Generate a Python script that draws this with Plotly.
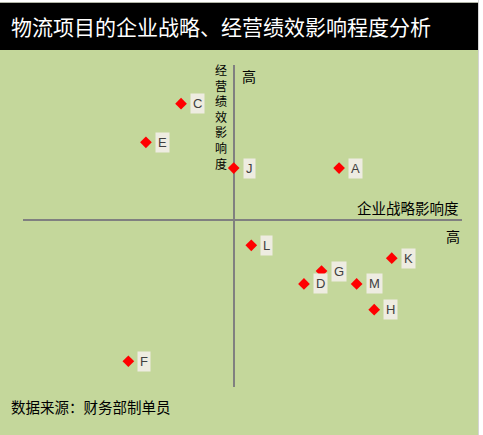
import plotly.graph_objects as go

# 项目数据（企业战略影响度, 经营绩效影响度）
projects = ['A', 'C', 'D', 'E', 'F', 'G', 'H', 'J', 'K', 'L', 'M']
strategy = [6, -3, 4, -5, -6, 5, 8, 0, 9, 1, 7]
performance = [4, 9, -5, 6, -11, -4, -7, 4, -3, -2, -5]

title_text = '物流项目的企业战略、经营绩效影响程度分析'
x_title = '企业战略影响度'
y_title = '经营绩效影响度'
high_label = '高'
source_text = '数据来源：财务部制单员'

W, H = 483, 435
L, R, T, B = 23, 21, 65, 48
PW, PH = W - L - R, H - T - B

def px(x):
    return (x - L) / PW

def py(y):
    return (H - B - y) / PH

green = '#c4d79b'
cjk = 'Noto Sans CJK SC'

fig = go.Figure()
fig.add_trace(go.Scatter(
    x=strategy, y=performance, mode='markers',
    marker=dict(symbol='diamond', size=9, color='#ff0000'),
    hoverinfo='skip', showlegend=False
))

ann = []
for name, xv, yv in zip(projects, strategy, performance):
    ann.append(dict(x=xv, y=yv, xref='x', yref='y', text=name, showarrow=False,
                    xanchor='left', yanchor='middle', xshift=9,
                    bgcolor='#eeece1', borderpad=2,
                    font=dict(family='Liberation Sans, Arial', size=13, color='#404040')))

# 纵轴标题（竖排）
ann.append(dict(x=px(229), y=py(116), xref='paper', yref='paper',
                text='<br>'.join(y_title), showarrow=False,
                xanchor='right', yanchor='middle', align='center',
                font=dict(family=cjk, size=12, color='#000000')))

ann += [
    dict(x=px(248.5), y=py(75.5), xref='paper', yref='paper', text=high_label,
         showarrow=False, xanchor='center', yanchor='middle',
         font=dict(family=cjk, size=14, color='#000000')),
    dict(x=px(461), y=py(207), xref='paper', yref='paper', text=x_title,
         showarrow=False, xanchor='right', yanchor='middle',
         font=dict(family=cjk, size=14.5, color='#000000')),
    dict(x=px(462), y=py(236.5), xref='paper', yref='paper', text=high_label,
         showarrow=False, xanchor='right', yanchor='middle',
         font=dict(family=cjk, size=14, color='#000000')),
    dict(x=px(9), y=py(407), xref='paper', yref='paper', text=source_text,
         showarrow=False, xanchor='left', yanchor='middle',
         font=dict(family=cjk, size=14.5, color='#000000')),
    dict(x=px(9), y=py(26), xref='paper', yref='paper', text=title_text,
         showarrow=False, xanchor='left', yanchor='middle',
         font=dict(family=cjk, size=21, color='#ffffff')),
]

shapes = [
    # 表格边缘
    dict(type='rect', xref='paper', yref='paper', x0=px(478), x1=px(490), y0=py(-5), y1=py(440),
         fillcolor='#ffffff', line=dict(width=0), layer='above'),
    dict(type='line', xref='paper', yref='paper', x0=px(478.5), x1=px(478.5), y0=py(0), y1=py(435),
         line=dict(color='#d4d4d4', width=1), layer='above'),
    dict(type='rect', xref='paper', yref='paper', x0=px(-5), x1=px(478), y0=py(2.5), y1=py(-5),
         fillcolor='#ffffff', line=dict(width=0), layer='above'),
    # 标题栏
    dict(type='rect', xref='paper', yref='paper', x0=px(-5), x1=px(478), y0=py(50), y1=py(2.5),
         fillcolor='#000000', line=dict(width=0), layer='below'),
]

fig.update_layout(
    width=W, height=H,
    margin=dict(l=L, r=R, t=T, b=B, pad=0),
    paper_bgcolor=green, plot_bgcolor=green,
    annotations=ann, shapes=shapes,
    xaxis=dict(range=[-12, 13], showgrid=False, showticklabels=False, ticks='',
               zeroline=True, zerolinecolor='#808080', zerolinewidth=2,
               showline=False, fixedrange=True),
    yaxis=dict(range=[-13, 12], showgrid=False, showticklabels=False, ticks='',
               zeroline=True, zerolinecolor='#808080', zerolinewidth=2,
               showline=False, fixedrange=True),
)

# 去掉页面默认边距，让图表贴齐窗口
fig.write_html('out.html', post_script="document.body.style.margin='0';",
               config={'displayModeBar': False})
